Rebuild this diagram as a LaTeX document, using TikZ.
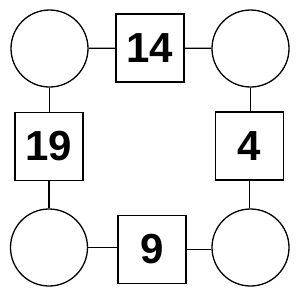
\documentclass[tikz,border=0pt]{standalone}
\usepackage{fontspec}
\setmainfont{Liberation Sans}
\begin{document}
\begin{tikzpicture}[x=1pt,y=-1pt,
  ring/.style={draw,circle,line width=1.3pt,minimum size=77pt,inner sep=0pt},
  numbox/.style={draw,rectangle,line width=1.3pt,minimum width=68pt,minimum height=68pt,inner sep=0pt,font=\fontsize{42}{42}\selectfont\bfseries},
  link/.style={line width=1.3pt}]
\useasboundingbox (0,0) rectangle (300,300);
\node[ring] (c1) at (49.5,48.5) {};
\node[ring] (c2) at (250.5,48.5) {};
\node[ring] (c3) at (49,247.5) {};
\node[ring] (c4) at (250.5,247.5) {};
\node[numbox] (b1) at (150,48) {14};
\node[numbox] (b2) at (49,146.5) {19};
\node[numbox] (b3) at (249.5,146) {4};
\node[numbox] (b4) at (152,249.5) {9};
\draw[link] (c1) -- (b1);
\draw[link] (b1) -- (c2);
\draw[link] (c1.south) -- (c1.south |- b2.north);
\draw[link] (b2.south) -- (b2.south |- c3.north);
\draw[link] (c2.south) -- (c2.south |- b3.north);
\draw[link] (b3.south) -- (b3.south |- c4.north);
\draw[link] (c3.east) -- (c3.east -| b4.west);
\draw[link] (b4.east) -- (b4.east -| c4.west);
\end{tikzpicture}
\end{document}
